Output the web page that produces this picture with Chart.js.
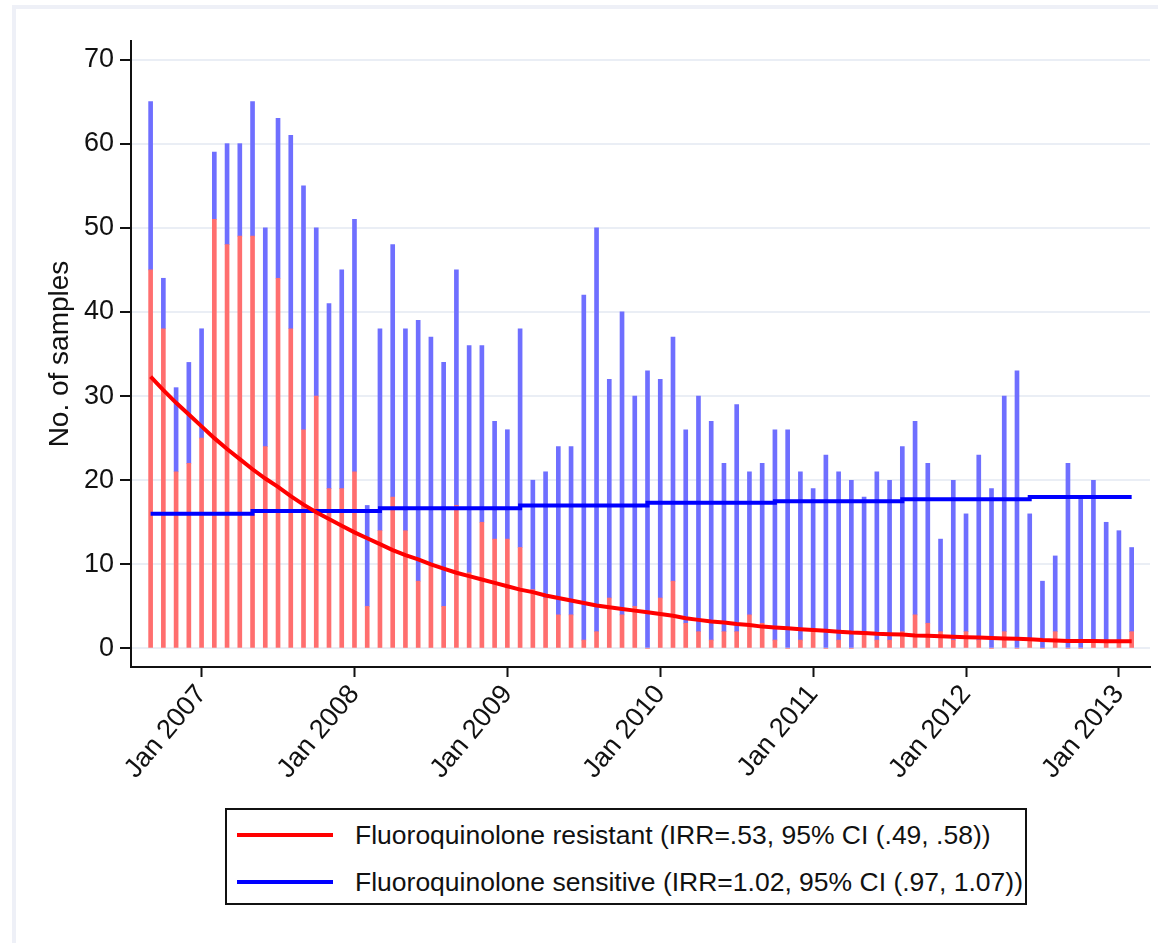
<!DOCTYPE html>
<html>
<head>
<meta charset="utf-8">
<script src="https://cdn.jsdelivr.net/npm/chart.js@4.4.1/dist/chart.umd.min.js"></script>
<style>
    html, body { margin: 0; padding: 0; background: #fff; }
    body { width: 1158px; height: 943px; position: relative; overflow: hidden;
           font-family: "Liberation Sans", Arial, sans-serif; }
    .frame { position: absolute; left: 12px; top: 5px; right: 0; bottom: 0;
             border-left: 4px solid #eef0f7; border-top: 4px solid #eef0f7; }
    #wrap { position: absolute; left: 0; top: 0; width: 1158px; height: 800px; }
    #legend { position: absolute; left: 225px; top: 808px; width: 798px; height: 93px;
              border: 2px solid #111; background: #fff; }
    .item { position: absolute; left: 10px; height: 30px; display: flex; align-items: center;
            font-size: 26.5px; color: #111; white-space: nowrap; }
    .swatch { width: 96px; height: 4px; margin-right: 22px; }
</style>
</head>
<body>
<div class="frame"></div>
<div id="wrap"><canvas id="chart"></canvas></div>
<div id="legend"></div>
<script>
// monthly categories
const months = [
    'Sep 2006', 'Oct 2006', 'Nov 2006', 'Dec 2006',
    'Jan 2007', 'Feb 2007', 'Mar 2007', 'Apr 2007', 'May 2007', 'Jun 2007', 'Jul 2007', 'Aug 2007', 'Sep 2007', 'Oct 2007', 'Nov 2007', 'Dec 2007',
    'Jan 2008', 'Feb 2008', 'Mar 2008', 'Apr 2008', 'May 2008', 'Jun 2008', 'Jul 2008', 'Aug 2008', 'Sep 2008', 'Oct 2008', 'Nov 2008', 'Dec 2008',
    'Jan 2009', 'Feb 2009', 'Mar 2009', 'Apr 2009', 'May 2009', 'Jun 2009', 'Jul 2009', 'Aug 2009', 'Sep 2009', 'Oct 2009', 'Nov 2009', 'Dec 2009',
    'Jan 2010', 'Feb 2010', 'Mar 2010', 'Apr 2010', 'May 2010', 'Jun 2010', 'Jul 2010', 'Aug 2010', 'Sep 2010', 'Oct 2010', 'Nov 2010', 'Dec 2010',
    'Jan 2011', 'Feb 2011', 'Mar 2011', 'Apr 2011', 'May 2011', 'Jun 2011', 'Jul 2011', 'Aug 2011', 'Sep 2011', 'Oct 2011', 'Nov 2011', 'Dec 2011',
    'Jan 2012', 'Feb 2012', 'Mar 2012', 'Apr 2012', 'May 2012', 'Jun 2012', 'Jul 2012', 'Aug 2012', 'Sep 2012', 'Oct 2012', 'Nov 2012', 'Dec 2012',
    'Jan 2013', 'Feb 2013'
];

// observed counts per month
const resistant = [
    45, 38, 21, 22,
    25, 51, 48, 49, 49, 24, 44, 38, 26, 30, 19, 19,
    21, 5, 14, 18, 14, 8, 10, 5, 17, 9, 15, 13,
    13, 12, 7, 6, 4, 4, 1, 2, 6, 4, 5, 0,
    6, 8, 3, 2, 1, 2, 2, 4, 3, 1, 0, 1,
    2, 0, 1, 0, 2, 1, 1, 2, 4, 3, 2, 1,
    2, 1, 0, 2, 0, 1, 0, 2, 0, 0, 1, 1,
    1, 2
];
const sensitive = [
    20, 6, 10, 12,
    13, 8, 12, 11, 16, 26, 19, 23, 29, 20, 22, 26,
    30, 12, 24, 30, 24, 31, 27, 29, 28, 27, 21, 14,
    13, 26, 13, 15, 20, 20, 41, 48, 26, 36, 25, 33,
    26, 29, 23, 28, 26, 20, 27, 17, 19, 25, 26, 20,
    17, 23, 20, 20, 16, 20, 19, 22, 23, 19, 11, 19,
    14, 22, 19, 28, 33, 15, 8, 9, 22, 18, 19, 14,
    13, 10
];

// fitted trends
const fitResistant = [
    32.3, 30.7, 29.2, 27.8,
    26.4, 25.0, 23.7, 22.5, 21.3, 20.2, 19.2, 18.1, 17.1, 16.2, 15.4, 14.6,
    13.8, 13.1, 12.4, 11.7, 11.1, 10.6, 10.0, 9.5, 9.0, 8.6, 8.2, 7.8,
    7.4, 7.0, 6.7, 6.3, 6.0, 5.7, 5.4, 5.1, 4.9, 4.7, 4.5, 4.3,
    4.1, 3.9, 3.6, 3.4, 3.2, 3.1, 2.9, 2.8, 2.6, 2.5, 2.4, 2.3,
    2.2, 2.1, 2.0, 1.9, 1.85, 1.75, 1.7, 1.65, 1.55, 1.5, 1.45, 1.4,
    1.35, 1.3, 1.25, 1.2, 1.15, 1.1, 1.0, 0.95, 0.9, 0.9, 0.9, 0.85,
    0.85, 0.85
];
const fitSensitive = [
    16.0, 16.0, 16.0, 16.0,
    16.0, 16.0, 16.0, 16.0, 16.0, 16.35, 16.35, 16.35, 16.35, 16.35, 16.35, 16.35,
    16.35, 16.35, 16.35, 16.67, 16.67, 16.67, 16.67, 16.67, 16.67, 16.67, 16.67, 16.67,
    16.67, 16.67, 17.0, 17.0, 17.0, 17.0, 17.0, 17.0, 17.0, 17.0, 17.0, 17.0,
    17.33, 17.33, 17.33, 17.33, 17.33, 17.33, 17.33, 17.33, 17.33, 17.33, 17.5, 17.5,
    17.5, 17.5, 17.5, 17.5, 17.5, 17.5, 17.5, 17.5, 17.75, 17.75, 17.75, 17.75,
    17.75, 17.75, 17.75, 17.75, 17.75, 17.75, 18.0, 18.0, 18.0, 18.0, 18.0, 18.0,
    18.0, 18.0
];

const yTicks = [0, 10, 20, 30, 40, 50, 60, 70];
const legendLabels = [
    'Fluoroquinolone resistant (IRR=.53, 95% CI (.49, .58))',
    'Fluoroquinolone sensitive (IRR=1.02, 95% CI (.97, 1.07))'
];

const pts = arr => arr.map((v, i) => ({ x: i, y: v }));
const janIdx = months.map((m, i) => m.startsWith('Jan') ? i : -1).filter(i => i >= 0);

const chart = new Chart(document.getElementById('chart'), {
    data: {
        datasets: [
            {
                type: 'line', label: legendLabels[0], data: pts(fitResistant), stack: 'fitR',
                borderColor: '#ff0000', borderWidth: 4, pointRadius: 0, fill: false
            },
            {
                type: 'line', label: legendLabels[1], data: pts(fitSensitive), stack: 'fitS',
                borderColor: '#0000ff', borderWidth: 4, pointRadius: 0, fill: false, stepped: 'after'
            },
            {
                type: 'bar', label: 'resistant', data: pts(resistant), stack: 'obs',
                backgroundColor: '#ff6f6f', barThickness: 4
            },
            {
                type: 'bar', label: 'sensitive', data: pts(sensitive), stack: 'obs',
                backgroundColor: '#6f6fff', barThickness: 4
            }
        ]
    },
    options: {
        responsive: true,
        maintainAspectRatio: false,
        animation: false,
        layout: { padding: { left: 0, right: 8, top: 41, bottom: 0 } },
        plugins: {
            legend: { display: false },
            tooltip: { enabled: false }
        },
        scales: {
            x: {
                type: 'linear',
                stacked: true,
                offset: false,
                min: -1.54,
                max: 78.44,
                afterBuildTicks: axis => { axis.ticks = janIdx.map(v => ({ value: v })); },
                afterFit: axis => { axis.height = 133; },
                grid: { offset: false, drawOnChartArea: false, tickLength: 10, tickWidth: 2, tickColor: '#111' },
                border: { color: '#111', width: 2 },
                ticks: {
                    autoSkip: false,
                    minRotation: 50,
                    maxRotation: 50,
                    padding: 2,
                    color: '#111',
                    font: { family: '"Liberation Sans", Arial', size: 27 },
                    callback: v => months[v]
                }
            },
            y: {
                stacked: true,
                min: -2.2,
                max: 72.2,
                afterBuildTicks: axis => { axis.ticks = yTicks.map(v => ({ value: v })); },
                afterFit: axis => { axis.width = 131; },
                grid: { color: '#eaeef5', lineWidth: 2, tickLength: 11, tickWidth: 2, tickColor: '#111' },
                border: { color: '#111', width: 2 },
                ticks: {
                    padding: 6,
                    color: '#111',
                    font: { family: '"Liberation Sans", Arial', size: 27 }
                },
                title: {
                    display: true,
                    text: 'No. of samples',
                    color: '#111',
                    padding: { top: 43, bottom: 0 },
                    font: { family: '"Liberation Sans", Arial', size: 28 }
                }
            }
        }
    }
});

// legend box below the plot
const legendEl = document.getElementById('legend');
chart.data.datasets.slice(0, 2).forEach((ds, i) => {
    const item = document.createElement('div');
    item.className = 'item';
    item.style.top = (10 + i * 47) + 'px';
    const sw = document.createElement('span');
    sw.className = 'swatch';
    sw.style.background = ds.borderColor;
    const txt = document.createElement('span');
    txt.textContent = ds.label;
    item.appendChild(sw);
    item.appendChild(txt);
    legendEl.appendChild(item);
});
</script>
</body>
</html>
